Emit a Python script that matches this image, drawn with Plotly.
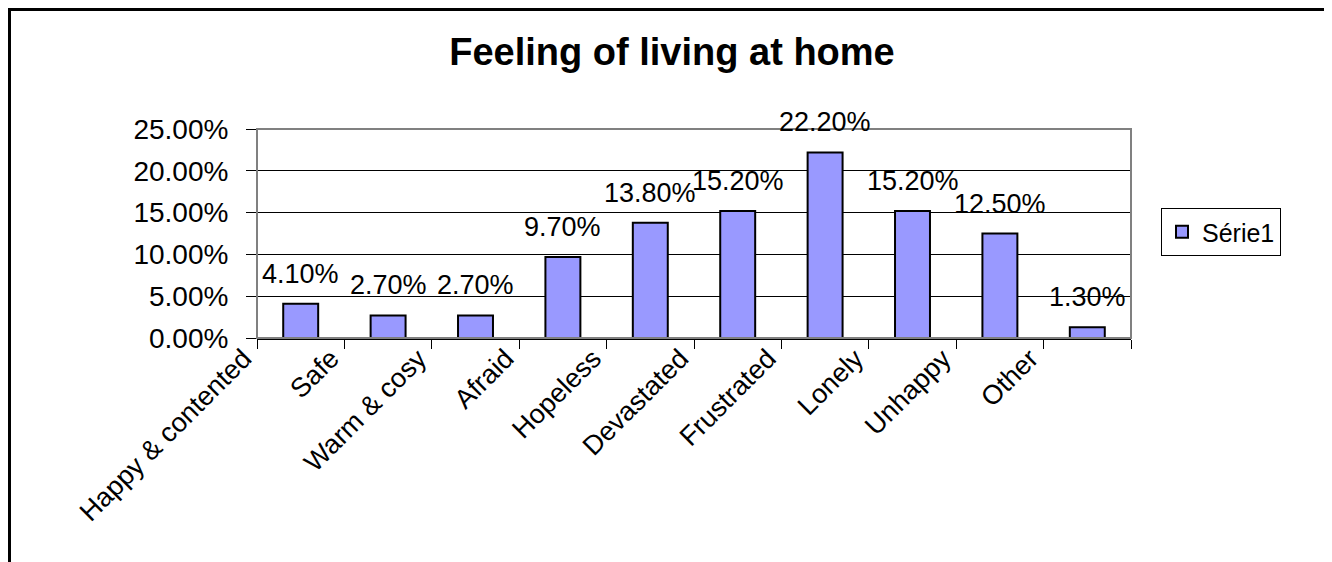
import plotly.graph_objects as go

categories = ["Happy & contented", "Safe", "Warm & cosy", "Afraid", "Hopeless",
              "Devastated", "Frustrated", "Lonely", "Unhappy", "Other"]
values = [0.041, 0.027, 0.027, 0.097, 0.138, 0.152, 0.222, 0.152, 0.125, 0.013]
series_name = "Série1"
y_ticks = [0, 0.05, 0.10, 0.15, 0.20, 0.25]

# page has an 8px body margin, so figure coords = page coords - 8
W, H = 1332, 562
L, R, T, B = 249, 209, 121, 232
pw, ph = W - L - R, H - T - B

font = "Liberation Sans, Arial, sans-serif"

fig = go.Figure()
fig.add_trace(go.Bar(
    x=categories, y=values, name=series_name,
    marker=dict(color="#9999FF", line=dict(color="black", width=2)),
    showlegend=True,
))

# value labels above bars
for c, v in zip(categories, values):
    fig.add_annotation(x=c, y=v, text=f"{v*100:.2f}%", showarrow=False,
                       yanchor="bottom", yshift=13,
                       font=dict(family=font, size=27, color="black"))

def px_x(p):
    return (p - L) / pw

def px_y(p):
    return (H - B - p) / ph

# outer chart border
fig.add_shape(type="rect", xref="paper", yref="paper",
              x0=px_x(1.5), x1=px_x(1319), y0=px_y(1.5), y1=px_y(600),
              line=dict(color="black", width=3), layer="above")
# plot area frame
fig.add_shape(type="rect", xref="paper", yref="paper", x0=0, x1=1, y0=0, y1=1,
              line=dict(color="#808080", width=2), layer="above")

fig.update_layout(
    width=W, height=H,
    margin=dict(l=L, r=R, t=T, b=B),
    paper_bgcolor="white", plot_bgcolor="white",
    bargap=0.6,
    title=dict(text="<b>Feeling of living at home</b>", x=(664 - L) / pw, xref="paper",
               xanchor="center", y=1 - 44 / H, yanchor="middle",
               font=dict(family=font, size=38, color="black")),
    font=dict(family=font, color="black"),
    legend=dict(x=px_x(1153), xanchor="left", y=px_y(224), yanchor="middle",
                bordercolor="black", borderwidth=1, bgcolor="white",
                entrywidth=110, tracegroupgap=0,
                font=dict(family=font, size=25, color="black")),
    xaxis=dict(type="category", showline=True, linecolor="black", linewidth=2,
               ticks="outside", tickson="boundaries", ticklen=9, tickcolor="black",
               tickangle=-45, ticklabelshift=-57, ticklabelstandoff=-8,
               tickfont=dict(family=font, size=27, color="black"),
               showgrid=False),
    yaxis=dict(range=[0, 0.25], tickvals=y_ticks, tickformat=".2%",
               showgrid=True, gridcolor="black", gridwidth=1, zeroline=False,
               ticks="outside", ticklen=10, tickcolor="black",
               ticklabelstandoff=12,
               tickfont=dict(family=font, size=28, color="black")),
)

fig.write_html("out.html")
